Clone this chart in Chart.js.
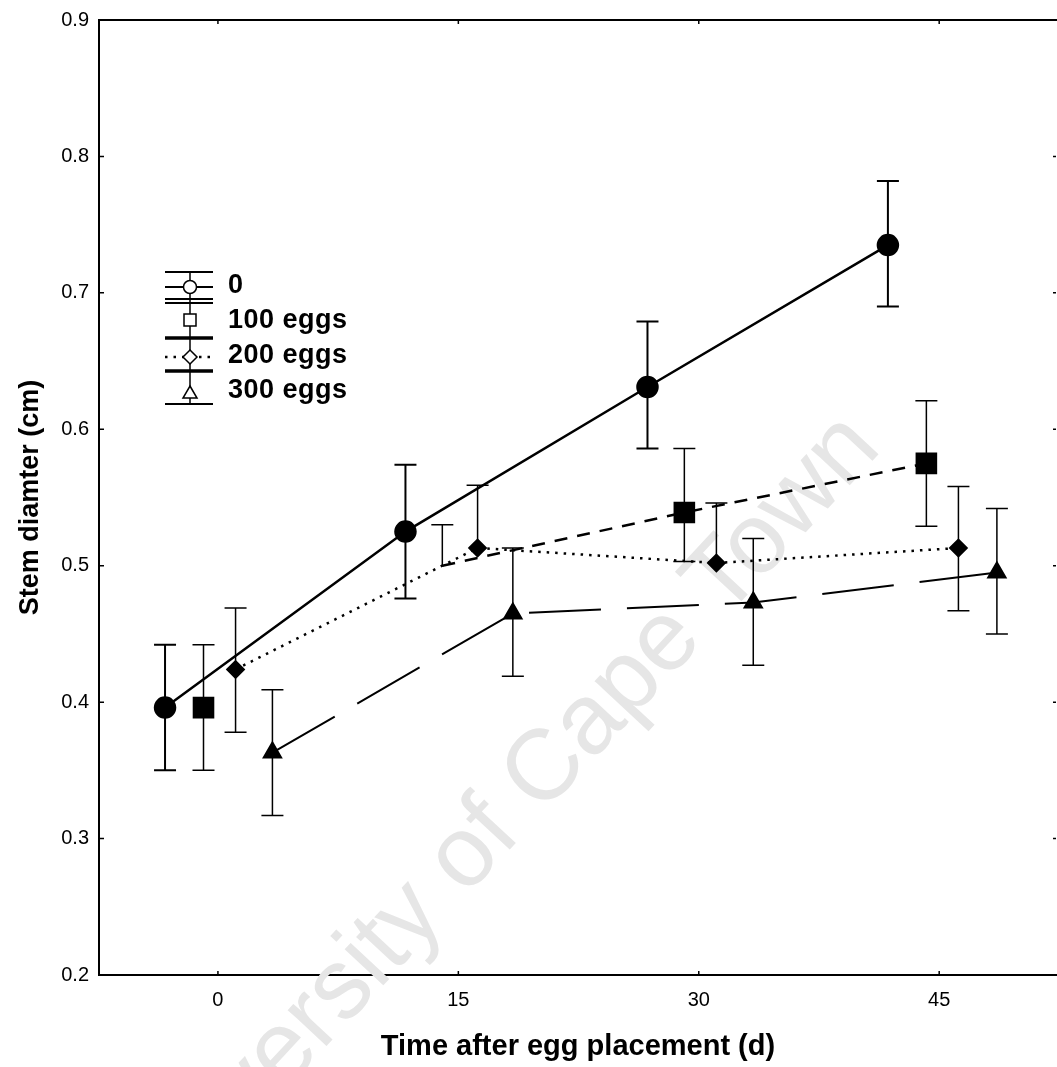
<!DOCTYPE html>
<html>
<head>
<meta charset="utf-8">
<script src="https://cdn.jsdelivr.net/npm/chart.js@4.4.0/dist/chart.umd.min.js"></script>
<style>
  html, body { margin: 0; padding: 0; background: #fff; overflow: hidden; }
</style>
</head>
<body>
<canvas id="chart" width="1057" height="1067"></canvas>
<script>
const FONT = '"Liberation Sans", Arial, Helvetica, sans-serif';

const xTicks = [0, 15, 30, 45];
const yTicks = [0.2, 0.3, 0.4, 0.5, 0.6, 0.7, 0.8, 0.9];
const seriesNames = ["0", "100 eggs", "200 eggs", "300 eggs"];

// days are staggered per group so the bars don't sit on top of each other
const ctrlDays = [-3.3, 11.7, 26.8, 41.8];
const ctrlMean = [0.396, 0.525, 0.631, 0.735];
const ctrlHigh = [0.442, 0.574, 0.679, 0.782];
const ctrlLow  = [0.350, 0.476, 0.586, 0.690];

const eggs100Days = [-0.9, 14.0, 29.1, 44.2];
const eggs100Mean = [0.396, 0.500, 0.539, 0.575];
const eggs100High = [0.442, 0.530, 0.586, 0.621];
const eggs100Low  = [0.350, null, 0.503, 0.529];

const eggs200Days = [1.1, 16.2, 31.1, 46.2];
const eggs200Mean = [0.424, 0.513, 0.502, 0.513];
const eggs200High = [0.469, 0.559, 0.546, 0.558];
const eggs200Low  = [0.378, null, null, 0.467];

const eggs300Days = [3.4, 18.4, 33.4, 48.6];
const eggs300Mean = [0.363, 0.465, 0.473, 0.495];
const eggs300High = [0.409, 0.513, 0.520, 0.542];
const eggs300Low  = [0.317, 0.419, 0.427, 0.450];

function points(days, vals) {
    return days.map((d, i) => ({ x: d, y: vals[i] }));
}

// whiskers + caps, drawn under the markers
const errorBars = {
    id: 'errorBars',
    beforeDatasetsDraw(chart) {
        const ctx = chart.ctx;
        const xs = chart.scales.x, ys = chart.scales.y;
        ctx.save();
        ctx.strokeStyle = '#000';
        chart.data.datasets.forEach(ds => {
            ctx.lineWidth = ds.errWidth;
            ds.data.forEach((p, i) => {
                const px = xs.getPixelForValue(p.x);
                const py = ys.getPixelForValue(p.y);
                [ds.errHigh[i], ds.errLow[i]].forEach(v => {
                    if (v === null) return;
                    const ey = ys.getPixelForValue(v);
                    ctx.beginPath();
                    ctx.moveTo(px, py);
                    ctx.lineTo(px, ey);
                    ctx.moveTo(px - 11, ey);
                    ctx.lineTo(px + 11, ey);
                    ctx.stroke();
                });
            });
        });
        ctx.restore();
    }
};

// faint diagonal watermark behind everything
const watermark = {
    id: 'watermark',
    beforeDatasetsDraw(chart) {
        const ctx = chart.ctx;
        ctx.save();
        ctx.translate(495, 825);
        ctx.rotate(-47 * Math.PI / 180);
        ctx.font = '100px ' + FONT;
        ctx.fillStyle = '#e6e6e6';
        ctx.textAlign = 'center';
        ctx.textBaseline = 'middle';
        ctx.fillText('University of Cape Town', 0, 0);
        ctx.restore();
    }
};

// box frame, inward ticks and the legend block
const frame = {
    id: 'frame',
    afterDraw(chart) {
        const ctx = chart.ctx;
        const a = chart.chartArea;
        const xs = chart.scales.x, ys = chart.scales.y;
        ctx.save();
        ctx.strokeStyle = '#000';
        ctx.fillStyle = '#000';

        ctx.lineWidth = 2;
        ctx.beginPath();
        ctx.moveTo(a.left, a.top);
        ctx.lineTo(a.right + 2, a.top);
        ctx.stroke();

        ctx.lineWidth = 1.5;
        ctx.beginPath();
        yTicks.forEach(v => {
            const y = ys.getPixelForValue(v);
            ctx.moveTo(a.left, y); ctx.lineTo(a.left + 5, y);
            ctx.moveTo(a.right - 1, y); ctx.lineTo(a.right - 4, y);
        });
        xTicks.forEach(v => {
            const x = xs.getPixelForValue(v);
            ctx.moveTo(x, a.bottom); ctx.lineTo(x, a.bottom - 4);
            ctx.moveTo(x, a.top); ctx.lineTo(x, a.top + 4);
        });
        ctx.stroke();

        // legend
        const L = 165, R = 213, cx = 190;
        const hline = (y, w) => {
            ctx.lineWidth = w;
            ctx.beginPath(); ctx.moveTo(L, y); ctx.lineTo(R, y); ctx.stroke();
        };
        const vline = (y0, y1) => {
            ctx.lineWidth = 1.5;
            ctx.beginPath(); ctx.moveTo(cx, y0); ctx.lineTo(cx, y1); ctx.stroke();
        };
        hline(272, 2);
        vline(272, 338);
        hline(287, 2);
        hline(299, 2);
        hline(303, 2);
        hline(338, 3.5);
        vline(338, 404);
        ctx.setLineDash([2.5, 6]);
        hline(357, 2.5);
        ctx.setLineDash([]);
        hline(371, 3.5);
        hline(404, 2);

        ctx.lineWidth = 1.5;
        ctx.fillStyle = '#fff';
        ctx.beginPath(); ctx.arc(cx, 287, 6.5, 0, Math.PI * 2); ctx.fill(); ctx.stroke();
        ctx.beginPath(); ctx.rect(cx - 6, 314, 12, 12); ctx.fill(); ctx.stroke();
        ctx.beginPath();
        ctx.moveTo(cx, 350); ctx.lineTo(cx + 7, 357); ctx.lineTo(cx, 364); ctx.lineTo(cx - 7, 357);
        ctx.closePath(); ctx.fill(); ctx.stroke();
        ctx.beginPath();
        ctx.moveTo(cx, 386); ctx.lineTo(cx + 7, 398); ctx.lineTo(cx - 7, 398);
        ctx.closePath(); ctx.fill(); ctx.stroke();

        ctx.fillStyle = '#000';
        ctx.font = 'bold 27px ' + FONT;
        ctx.textBaseline = 'alphabetic';
        ctx.textAlign = 'left';
        ctx.letterSpacing = '0.5px';
        const base = [293, 328, 363, 398];
        seriesNames.forEach((n, i) => ctx.fillText(n, 228, base[i]));
        ctx.restore();
    }
};

const ctx = document.getElementById('chart').getContext('2d');
const chart = new Chart(ctx, {
    type: 'line',
    data: {
        datasets: [{
            label: seriesNames[0],
            data: points(ctrlDays, ctrlMean),
            errHigh: ctrlHigh, errLow: ctrlLow, errWidth: 2,
            borderColor: '#000', backgroundColor: '#000',
            borderWidth: 2.5,
            pointStyle: 'circle', pointRadius: 10
        }, {
            label: seriesNames[1],
            data: points(eggs100Days, eggs100Mean),
            errHigh: eggs100High, errLow: eggs100Low, errWidth: 1.5,
            borderColor: '#000', backgroundColor: '#000',
            borderWidth: 2.5, borderDash: [13, 10],
            // first leg runs under the dotted line, leave it blank
            segment: { borderColor: c => c.p0DataIndex === 0 ? 'rgba(0,0,0,0)' : '#000' },
            pointStyle: 'rect', pointRadius: [13.5, 0, 13.5, 13.5]
        }, {
            label: seriesNames[2],
            data: points(eggs200Days, eggs200Mean),
            errHigh: eggs200High, errLow: eggs200Low, errWidth: 1.5,
            borderColor: '#000', backgroundColor: '#000',
            borderWidth: 2.5, borderDash: [2.5, 6],
            pointStyle: 'rectRot', pointRadius: 8
        }, {
            label: seriesNames[3],
            data: points(eggs300Days, eggs300Mean),
            errHigh: eggs300High, errLow: eggs300Low, errWidth: 1.5,
            borderColor: '#000', backgroundColor: '#000',
            borderWidth: 2, borderDash: [72, 26],
            pointStyle: 'triangle', pointRadius: 10
        }]
    },
    options: {
        responsive: false,
        animation: false,
        layout: { autoPadding: false, padding: { top: 20, right: 0, left: 0, bottom: 0 } },
        elements: {
            line: { tension: 0, fill: false },
            point: { borderWidth: 1 }
        },
        plugins: {
            legend: { display: false },
            tooltip: { enabled: false }
        },
        scales: {
            x: {
                type: 'linear',
                min: -7.42,
                max: 52.35,
                afterBuildTicks: s => { s.ticks = xTicks.map(v => ({ value: v })); },
                afterFit: s => { s.height = 92; s.paddingLeft = 0; s.paddingRight = 0; },
                grid: { display: false, drawTicks: false },
                border: { display: true, color: '#000', width: 2 },
                ticks: { color: '#000', padding: 13, font: { family: FONT, size: 20 } },
                title: {
                    display: true,
                    text: 'Time after egg placement (d)',
                    color: '#000',
                    font: { family: FONT, size: 29, weight: 'bold' },
                    padding: { top: 0, bottom: 3 }
                }
            },
            y: {
                min: 0.2,
                max: 0.9,
                afterBuildTicks: s => { s.ticks = yTicks.map(v => ({ value: v })); },
                afterFit: s => { s.width = 99; s.paddingTop = 0; s.paddingBottom = 0; },
                grid: { display: false, drawTicks: false },
                border: { display: true, color: '#000', width: 2 },
                ticks: {
                    color: '#000', padding: 10,
                    font: { family: FONT, size: 20 },
                    callback: v => v.toFixed(1)
                },
                title: {
                    display: true,
                    text: 'Stem diamter (cm)',
                    color: '#000',
                    font: { family: FONT, size: 27, weight: 'bold' },
                    padding: { top: 14, bottom: 0 }
                }
            }
        }
    },
    plugins: [watermark, errorBars, frame]
});
</script>
</body>
</html>
